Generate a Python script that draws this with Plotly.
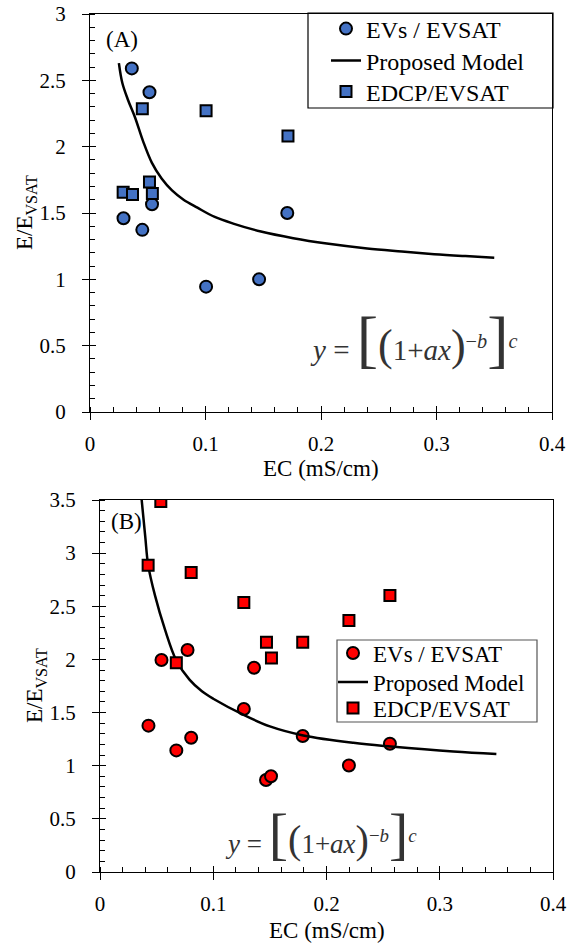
import plotly.graph_objects as go

# ---------------- data (A) ----------------
a_ev_x = [0.0362, 0.0515, 0.0290, 0.0453, 0.0537, 0.1005, 0.1464, 0.1708]
a_ev_y = [2.59, 2.41, 1.46, 1.373, 1.566, 0.945, 1.00, 1.50]
a_dcp_x = [0.0453, 0.1005, 0.1714, 0.0287, 0.0368, 0.0515, 0.0540]
a_dcp_y = [2.286, 2.27, 2.08, 1.657, 1.64, 1.734, 1.647]
a_model_x = [0.025, 0.028, 0.033, 0.039, 0.046, 0.0535, 0.062, 0.071, 0.081, 0.093,
             0.108, 0.124, 0.148, 0.176, 0.205, 0.240, 0.270, 0.298, 0.325, 0.350]
a_model_y = [2.63, 2.48, 2.35, 2.22, 2.04, 1.88, 1.76, 1.67, 1.60, 1.54,
             1.47, 1.42, 1.36, 1.31, 1.27, 1.233, 1.21, 1.19, 1.175, 1.163]

# ---------------- data (B) ----------------
b_ev_x = [0.0428, 0.0543, 0.0674, 0.0773, 0.0805, 0.1270, 0.1360, 0.1466, 0.1510,
          0.1790, 0.2198, 0.2560]
b_ev_y = [1.377, 1.994, 1.144, 2.089, 1.263, 1.534, 1.922, 0.866, 0.901,
          1.279, 1.002, 1.207]
b_dcp_x = [0.0537, 0.0425, 0.0805, 0.0674, 0.1270, 0.1470, 0.1514, 0.1790, 0.2198, 0.2560]
b_dcp_y = [3.485, 2.886, 2.817, 1.969, 2.536, 2.161, 2.013, 2.161, 2.366, 2.602]
b_model_x = [0.0368, 0.0400, 0.0425, 0.0486, 0.0574, 0.0674, 0.0790, 0.0900, 0.1000,
             0.1265, 0.1500, 0.1795, 0.2237, 0.2570, 0.3120, 0.3500]
b_model_y = [3.50, 3.15, 2.89, 2.60, 2.28, 1.99, 1.81, 1.70, 1.63,
             1.48, 1.37, 1.285, 1.215, 1.18, 1.133, 1.11]

x_ticks = [0, 0.1, 0.2, 0.3, 0.4]
series_names = ["EVs / EVSAT", "Proposed Model", "EDCP/EVSAT"]

W, H = 569, 944
def PX(p): return p / W
def PY(p): return 1 - p / H

FONT = "Liberation Serif, Times New Roman, serif"
BLUE = "#4472C4"
RED = "#FF0000"

fig = go.Figure()

def add_panel(ev_x, ev_y, mx, my, dx, dy, color, xa, ya, legs):
    fig.add_trace(go.Scatter(x=ev_x, y=ev_y, mode="markers", name=series_names[0],
                             marker=dict(symbol="circle", size=12, color=color,
                                         line=dict(color="black", width=2)),
                             xaxis=xa, yaxis=ya, legend=legs[0]))
    fig.add_trace(go.Scatter(x=mx, y=my, mode="lines", name=series_names[1],
                             line=dict(color="black", width=2.5, shape="spline"),
                             xaxis=xa, yaxis=ya, legend=legs[1]))
    fig.add_trace(go.Scatter(x=dx, y=dy, mode="markers", name=series_names[2],
                             marker=dict(symbol="square", size=11, color=color,
                                         line=dict(color="black", width=2)),
                             xaxis=xa, yaxis=ya, legend=legs[2]))

add_panel(a_ev_x, a_ev_y, a_model_x, a_model_y, a_dcp_x, a_dcp_y, BLUE, "x", "y",
          ["legend", "legend2", "legend3"])
add_panel(b_ev_x, b_ev_y, b_model_x, b_model_y, b_dcp_x, b_dcp_y, RED, "x2", "y2",
          ["legend4", "legend5", "legend6"])

# dummy traces for overlay axes (inner half of crossing major ticks)
fig.add_trace(go.Scatter(x=[], y=[], xaxis="x3", yaxis="y3", showlegend=False, hoverinfo="skip"))
fig.add_trace(go.Scatter(x=[], y=[], xaxis="x4", yaxis="y4", showlegend=False, hoverinfo="skip"))

tickfont = dict(family=FONT, size=21, color="black")

def main_x(domain, anchor):
    return dict(domain=domain, anchor=anchor, range=[0, 0.4], tickvals=x_ticks,
                ticks="outside", ticklen=7, tickcolor="black", tickwidth=1,
                minor=dict(dtick=0.02, ticks="inside", ticklen=5, tickcolor="black", showgrid=False),
                showline=True, linecolor="black", linewidth=1, mirror=True,
                showgrid=False, zeroline=False, tickfont=tickfont, ticklabelstandoff=6,
                automargin=False)

def main_y(domain, anchor, top):
    return dict(domain=domain, anchor=anchor, range=[0, top], dtick=0.5,
                ticks="outside", ticklen=7, tickcolor="black", tickwidth=1,
                minor=dict(dtick=0.1, ticks="inside", ticklen=5, tickcolor="black", showgrid=False),
                showline=True, linecolor="black", linewidth=1, mirror=True,
                showgrid=False, zeroline=False, tickfont=tickfont, ticklabelstandoff=12,
                automargin=False)

def over_x(over, anchor):
    return dict(overlaying=over, anchor=anchor, range=[0, 0.4], tickvals=x_ticks,
                ticks="inside", ticklen=6, tickcolor="black", showticklabels=False,
                showline=False, showgrid=False, zeroline=False, automargin=False)

def over_y(over, anchor, top):
    return dict(overlaying=over, anchor=anchor, range=[0, top], dtick=0.5,
                ticks="inside", ticklen=6, tickcolor="black", showticklabels=False,
                showline=False, showgrid=False, zeroline=False, automargin=False)

top_x_dom = [PX(90), PX(552)]
top_y_dom = [PY(412), PY(14)]
bot_x_dom = [PX(100), PX(553)]
bot_y_dom = [PY(872), PY(500)]

def txt(text, x, y, size, xanchor="center", yanchor="middle", angle=0, color="black"):
    return dict(text=text, x=PX(x), y=PY(y), xref="paper", yref="paper",
                xanchor=xanchor, yanchor=yanchor, textangle=angle, showarrow=False,
                font=dict(family=FONT, size=size, color=color))

ann = []
# axis titles
ann.append(txt("EC (mS/cm)", 321, 468, 23))
ann.append(txt("EC (mS/cm)", 326.5, 930, 23))
ann.append(txt("E/E<sub>VSAT</sub>", 26, 213, 23, angle=-90))
ann.append(txt("E/E<sub>VSAT</sub>", 36, 686, 23, angle=-90))
# panel labels
ann.append(txt("(A)", 104, 39, 23, xanchor="left"))
ann.append(txt("(B)", 109, 521, 23, xanchor="left"))
# formulas
formula = ("<i>y</i> = <span style='font-size:64px'>[</span>"
           "<span style='font-size:44px'>(</span>1+<i>ax</i>"
           "<span style='font-size:44px'>)</span><sup>−<i>b</i></sup>"
           "<span style='font-size:64px'>]</span><sup><i>c</i></sup>")
ann.append(txt(formula, 414, 338, 29, color="#333333"))
formula_b = ("<i>y</i> = <span style='font-size:58px'>[</span>"
             "<span style='font-size:40px'>(</span>1+<i>ax</i>"
             "<span style='font-size:40px'>)</span><sup>−<i>b</i></sup>"
             "<span style='font-size:58px'>]</span><sup><i>c</i></sup>")
ann.append(txt(formula_b, 321, 833, 27, color="#333333"))

shapes = [
    dict(type="rect", xref="paper", yref="paper", x0=PX(308), x1=PX(553), y0=PY(108), y1=PY(13),
         line=dict(color="black", width=1.2), fillcolor="white", layer="below"),
    dict(type="rect", xref="paper", yref="paper", x0=PX(337), x1=PX(537), y0=PY(722), y1=PY(640),
         line=dict(color="#555555", width=1.2), fillcolor="white", layer="below"),
]

def leg(x, y, size):
    return dict(x=PX(x), y=PY(y), xanchor="left", yanchor="middle",
                bgcolor="rgba(0,0,0,0)", borderwidth=0,
                font=dict(family=FONT, size=size, color="black"))

fig.update_layout(
    width=W, height=H, margin=dict(l=0, r=0, t=0, b=0, autoexpand=False),
    paper_bgcolor="white", plot_bgcolor="rgba(0,0,0,0)",
    font=dict(family=FONT, color="black"),
    xaxis=main_x(top_x_dom, "y"), yaxis=main_y(top_y_dom, "x", 3),
    xaxis2=main_x(bot_x_dom, "y2"), yaxis2=main_y(bot_y_dom, "x2", 3.5),
    xaxis3=over_x("x", "y"), yaxis3=over_y("y", "x", 3),
    xaxis4=over_x("x2", "y2"), yaxis4=over_y("y2", "x2", 3.5),
    legend=leg(326, 29, 24), legend2=leg(326, 61, 24), legend3=leg(326, 92, 24),
    legend4=leg(333, 653, 23), legend5=leg(333, 682, 23), legend6=leg(333, 708, 23),
    annotations=ann, shapes=shapes, showlegend=True,
)

fig.write_html("out.html")
